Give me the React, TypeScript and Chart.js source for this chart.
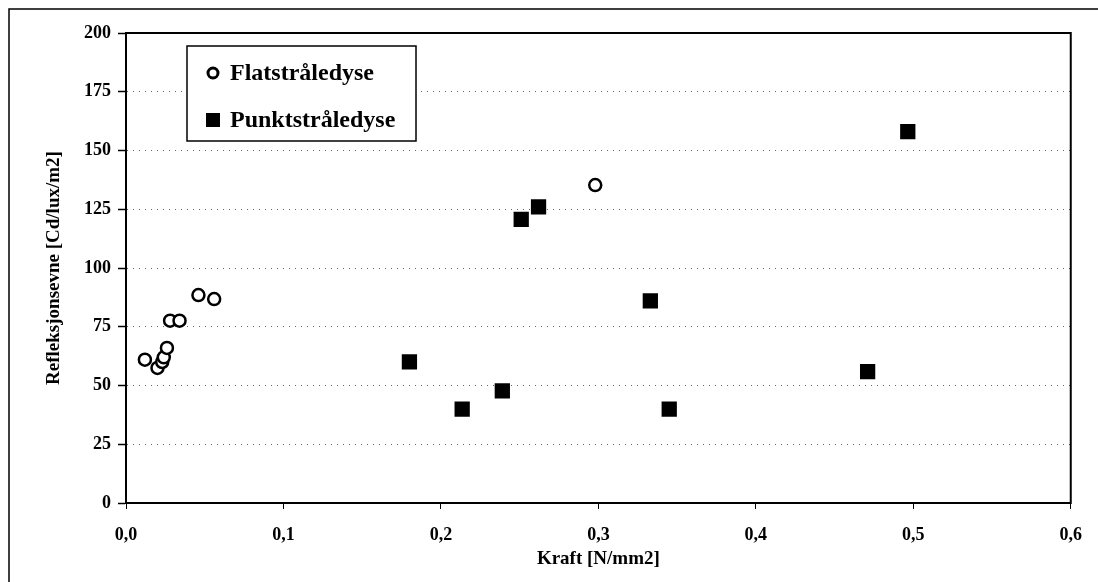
import React, { useEffect, useRef } from "react";
import { Chart, registerables } from "chart.js";

Chart.register(...registerables);

const flatX = [0.012, 0.02, 0.023, 0.024, 0.026, 0.028, 0.034, 0.046, 0.056, 0.298];
const flatY = [61, 57.5, 60, 62, 66, 77.6, 77.6, 88.5, 86.8, 135.3];
const punktX = [0.18, 0.2135, 0.239, 0.251, 0.262, 0.333, 0.345, 0.471, 0.4965];
const punktY = [60.1, 39.9, 47.7, 120.7, 126, 86, 39.9, 55.9, 158];
const legendLabels = ["Flatstråledyse", "Punktstråledyse"];
const xTitle = "Kraft [N/mm2]";
const yTitle = "Refleksjonsevne [Cd/lux/m2]";

const FONT = "'Liberation Serif', 'Times New Roman', serif";

const framePlugin = {
  id: "frame",
  afterDraw(chart: any) {
    const { ctx, chartArea: a } = chart;
    ctx.save();
    // plot box
    ctx.strokeStyle = "#000";
    ctx.lineWidth = 2;
    ctx.strokeRect(a.left, a.top, a.right - a.left, a.bottom - a.top);
    // outer frame (left & top)
    ctx.lineWidth = 1.5;
    ctx.beginPath();
    ctx.moveTo(9, 582);
    ctx.lineTo(9, 9);
    ctx.lineTo(1098, 9);
    ctx.stroke();
    // legend box
    const lx = a.left + 61;
    const ly = a.top + 13;
    const lw = 229;
    const lh = 95;
    ctx.fillStyle = "#fff";
    ctx.fillRect(lx, ly, lw, lh);
    ctx.lineWidth = 1.5;
    ctx.strokeRect(lx, ly, lw, lh);
    ctx.font = `bold 24px ${FONT}`;
    ctx.textBaseline = "middle";
    ctx.textAlign = "left";
    ctx.fillStyle = "#000";
    const y1 = ly + 27;
    const y2 = ly + 74;
    // entry 1: open circle
    ctx.beginPath();
    ctx.lineWidth = 3;
    ctx.arc(lx + 26, y1, 5, 0, Math.PI * 2);
    ctx.stroke();
    ctx.fillText(legendLabels[0], lx + 43, y1 + 1);
    // entry 2: filled square
    ctx.fillRect(lx + 19, y2 - 7, 14, 14);
    ctx.fillText(legendLabels[1], lx + 43, y2 + 1);
    ctx.restore();
  },
};

export default function App() {
  const ref = useRef<HTMLCanvasElement>(null);
  useEffect(() => {
    document.body.style.margin = "0";
    const chart = new Chart(ref.current as HTMLCanvasElement, {
      type: "scatter",
      data: {
        datasets: [
          {
            label: legendLabels[0],
            data: flatX.map((x, i) => ({ x, y: flatY[i] })),
            pointStyle: "circle",
            pointRadius: 6,
            borderWidth: 2.5,
            borderColor: "#000",
            backgroundColor: "#fff",
          },
          {
            label: legendLabels[1],
            data: punktX.map((x, i) => ({ x, y: punktY[i] })),
            pointStyle: "rect",
            pointRadius: 10.8,
            borderWidth: 0,
            borderColor: "#000",
            backgroundColor: "#000",
          },
        ],
      },
      options: {
        animation: false,
        responsive: false,
        layout: { padding: { left: 43, right: 26, top: 33, bottom: 9 } },
        plugins: { legend: { display: false }, tooltip: { enabled: false } },
        scales: {
          x: {
            type: "linear",
            min: 0,
            max: 0.6,
            afterFit: (s: any) => {
              s.height = 70;
            },
            ticks: {
              stepSize: 0.1,
              color: "#000",
              padding: 16,
              font: { family: FONT, size: 18, weight: "bold" },
              callback: (v: any) => Number(v).toFixed(1).replace(".", ","),
            },
            grid: { drawOnChartArea: false, drawTicks: true, tickLength: 6, color: "#000" },
            border: { color: "#000", width: 2 },
            title: {
              display: true,
              text: xTitle,
              color: "#000",
              padding: { top: 0, bottom: 3 },
              font: { family: FONT, size: 19, weight: "bold" },
            },
          },
          y: {
            min: 0,
            max: 200,
            afterFit: (s: any) => {
              s.width = 83;
            },
            ticks: {
              stepSize: 25,
              color: "#000",
              padding: 7,
              font: { family: FONT, size: 18, weight: "bold" },
            },
            grid: {
              color: "#666",
              lineWidth: 1,
              tickColor: "#000",
              tickLength: 8,
              tickWidth: 1.5,
            },
            border: { color: "#000", width: 2, dash: [1, 5] },
            title: {
              display: true,
              text: yTitle,
              color: "#000",
              padding: { top: 0, bottom: 0 },
              font: { family: FONT, size: 19, weight: "bold" },
            },
          },
        },
      },
      plugins: [framePlugin],
    });
    return () => chart.destroy();
  }, []);
  return <canvas ref={ref} width={1098} height={582} style={{ display: "block" }} />;
}
